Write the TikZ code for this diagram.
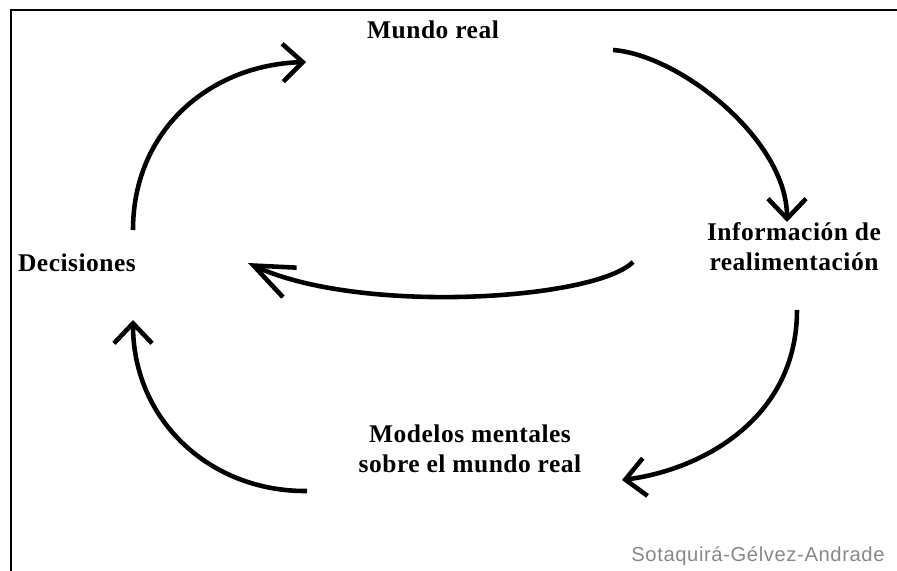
\documentclass[tikz,border=0pt]{standalone}
\usepackage{fontspec}
\setmainfont{Liberation Serif}
\newfontfamily\labelfont[LetterSpace=2]{Liberation Serif Bold}
\newfontfamily\firmafont[LetterSpace=3]{Liberation Sans}
\usetikzlibrary{arrows.meta}
\definecolor{firmagray}{RGB}{136,136,136}
\tikzset{
  etiqueta/.style={font=\labelfont\fontsize{14.5}{17}\selectfont, align=center, inner sep=0pt},
  firma/.style={font=\firmafont\fontsize{11.5}{13}\selectfont, text=firmagray, inner sep=0pt},
  flecha/.style={line width=2.6pt, -{Straight Barb[length=0.4cm, width=0.76cm]}},
  marco/.style={line width=1.3pt},
}

\begin{document}
\begin{tikzpicture}[x=0.02cm, y=-0.02cm]
  \useasboundingbox (0,0) rectangle (897,571);
  % marco
  \draw[marco] (11,571) -- (11,10) -- (897,10);
  % etiquetas
  \node[etiqueta] (mundo) at (433,30) {Mundo real};
  \node[etiqueta] (dec) at (77,263) {Decisiones};
  \node[etiqueta] (info) at (794,247) {Información de\\realimentación};
  \node[etiqueta] (modelos) at (470,449) {Modelos mentales\\sobre el mundo real};
  \node[firma] (autores) at (758,556) {Sotaquirá-Gélvez-Andrade};
  % flechas del ciclo
  \draw[flecha] ([shift={(56,-33)}]dec.center) .. controls +(0,-100) and +(-96,3) .. ([shift={(-127,32)}]mundo.center);
  \draw[flecha] ([shift={(180,20)}]mundo.center) .. controls +(67,5) and +(0,-82) .. ([shift={(-7,-25)}]info.center);
  \draw[flecha, -{Straight Barb[length=0.8cm, width=0.65cm]}] ([shift={(-161,15)}]info.center) .. controls +(-38,38) and +(112,52) .. ([shift={(171,0)}]dec.center);
  \draw[flecha] ([shift={(3,63)}]info.center) .. controls +(0,110) and +(78,-10) .. ([shift={(152,31)}]modelos.center);
  \draw[flecha] ([shift={(-163,42)}]modelos.center) .. controls +(-97,1) and +(0,100) .. ([shift={(56,57)}]dec.center);
\end{tikzpicture}
\end{document}
